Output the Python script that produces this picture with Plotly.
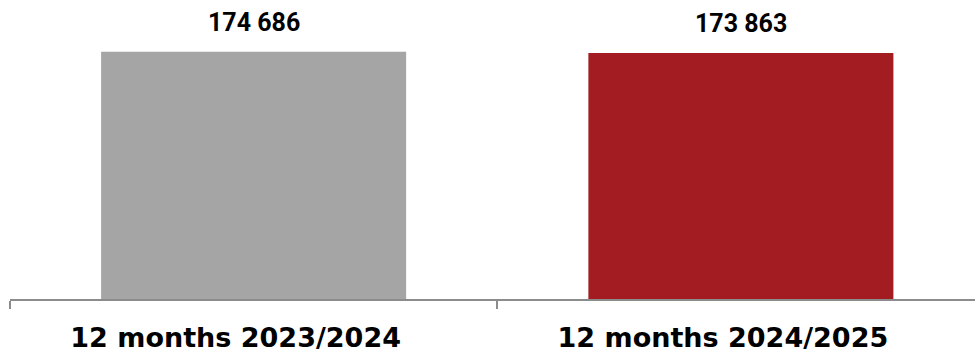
import plotly.graph_objects as go

categories = ["12 months 2023/2024", "12 months 2024/2025"]
values = [174686, 173863]
value_labels = ["174 686", "173 863"]
colors = ["#A5A5A5", "#A21C21"]

fig = go.Figure()
fig.add_trace(go.Bar(
    x=categories, y=values,
    marker=dict(color=colors, line=dict(width=0)),
    width=0.626,
    hoverinfo="skip",
))

for c, v, t in zip(categories, values, value_labels):
    fig.add_annotation(
        x=c, y=v, text="<b>%s</b>" % t, showarrow=False,
        yanchor="bottom", yshift=13,
        font=dict(family="Roboto", size=25, color="#000000"),
    )

fig.update_layout(
    width=975, height=353,
    margin=dict(l=9.5, r=0, t=15.5, b=49, pad=0),
    plot_bgcolor="white", paper_bgcolor="white",
    showlegend=False,
    xaxis=dict(
        type="category",
        range=[-0.5, 1.4805],
        showline=True, linecolor="#8C8C8C", linewidth=1.5,
        ticks="outside", tickson="boundaries", ticklen=8, tickwidth=1.5,
        tickcolor="#8C8C8C",
        tickfont=dict(family="DejaVu Sans", size=27, color="#000000", weight="bold"),
        ticklabelshift=-18,
        ticklabelstandoff=14,
        showgrid=False, zeroline=False,
    ),
    yaxis=dict(
        range=[0, 200000],
        visible=False, showgrid=False, zeroline=False,
    ),
)

fig.write_html("out.html")
